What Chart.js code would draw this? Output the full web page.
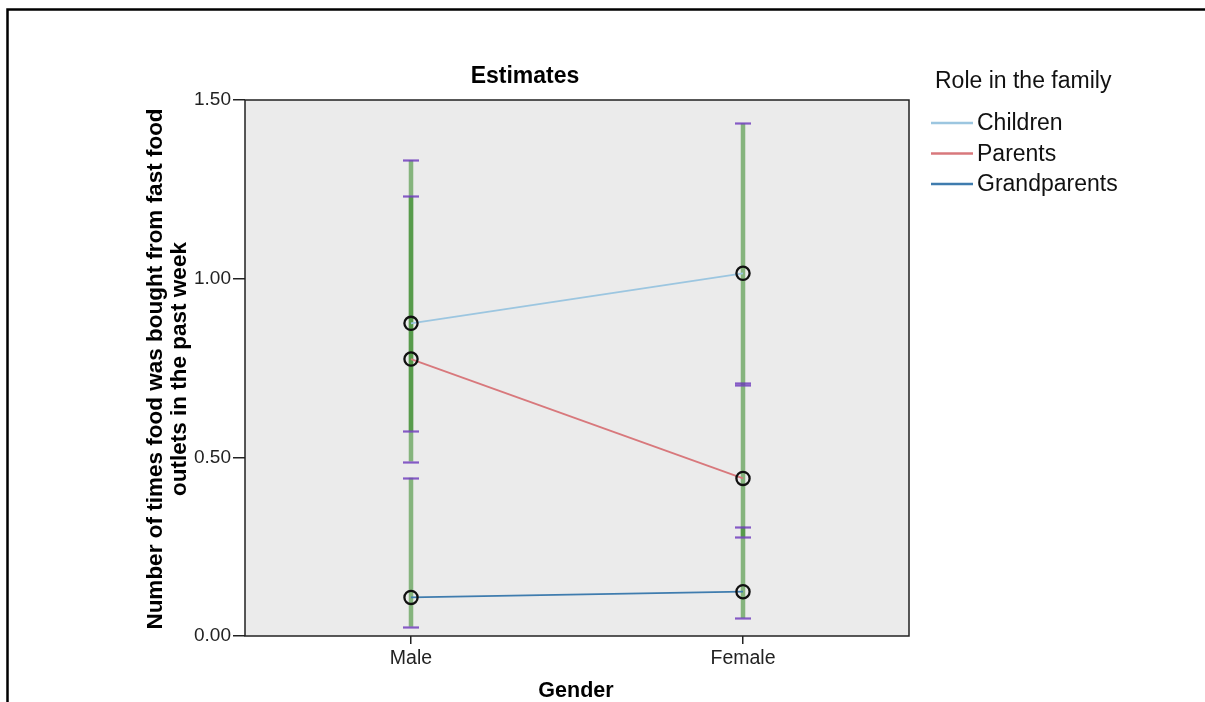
<!DOCTYPE html>
<html>
<head>
<meta charset="utf-8">
<title>Estimates</title>
<script src="https://cdn.jsdelivr.net/npm/chart.js@4/dist/chart.umd.min.js"></script>
<style>
  html, body { margin: 0; padding: 0; background: #ffffff; }
  #wrap { position: relative; width: 1205px; height: 702px; }
</style>
</head>
<body>
<div id="wrap"><canvas id="chart" width="1205" height="702"></canvas></div>
<script>
// Estimated marginal means by gender and role in the family
const genders = ['Male', 'Female'];
const roles = ['Children', 'Parents', 'Grandparents'];

const childrenMeans = [0.875, 1.015];
const parentsMeans = [0.775, 0.441];
const grandparentsMeans = [0.108, 0.124];

// 95% confidence interval bounds
const childrenLower = [0.574, 0.702];
const childrenUpper = [1.231, 1.435];
const parentsLower = [0.488, 0.278];
const parentsUpper = [1.332, 0.709];
const grandparentsLower = [0.026, 0.050];
const grandparentsUpper = [0.443, 0.306];

const yTicks = [0, 0.5, 1.0, 1.5];

const roleColors = ['#9cc6e0', '#d8787c', '#3f7cae'];
const FONT = '"Liberation Sans", Arial, sans-serif';

const intervals = [
  { lower: childrenLower, upper: childrenUpper },
  { lower: parentsLower, upper: parentsUpper },
  { lower: grandparentsLower, upper: grandparentsUpper }
];

// Error bars: green whiskers with purple caps, drawn under the lines
const errorBars = {
  id: 'errorBars',
  beforeDatasetsDraw(chart) {
    const { ctx, scales: { x, y } } = chart;
    ctx.save();
    ctx.lineCap = 'butt';
    intervals.forEach(iv => {
      genders.forEach((g, i) => {
        const px = x.getPixelForValue(i);
        const top = y.getPixelForValue(iv.upper[i]);
        const bot = y.getPixelForValue(iv.lower[i]);
        ctx.strokeStyle = 'rgba(50,135,35,0.55)';
        ctx.lineWidth = 4.5;
        ctx.beginPath();
        ctx.moveTo(px, top);
        ctx.lineTo(px, bot);
        ctx.stroke();
      });
    });
    intervals.forEach(iv => {
      genders.forEach((g, i) => {
        const px = x.getPixelForValue(i);
        ctx.strokeStyle = 'rgba(115,65,190,0.85)';
        ctx.lineWidth = 2.2;
        [iv.upper[i], iv.lower[i]].forEach(v => {
          const py = Math.round(y.getPixelForValue(v)) + 0.5;
          ctx.beginPath();
          ctx.moveTo(px - 8, py);
          ctx.lineTo(px + 8, py);
          ctx.stroke();
        });
      });
    });
    ctx.restore();
  }
};

// Plot background, borders, titles and legend
const frame = {
  id: 'frame',
  beforeDraw(chart) {
    const { ctx, chartArea: a } = chart;
    ctx.save();
    ctx.fillStyle = '#ebebeb';
    ctx.fillRect(a.left, a.top, a.right - a.left, a.bottom - a.top);
    ctx.restore();
  },
  afterDraw(chart) {
    const { ctx, chartArea: a } = chart;
    ctx.save();
    ctx.strokeStyle = '#222';
    ctx.lineWidth = 1.5;
    ctx.strokeRect(a.left, a.top, a.right - a.left, a.bottom - a.top);

    ctx.strokeStyle = '#000';
    ctx.lineWidth = 2.5;
    ctx.beginPath();
    ctx.moveTo(7.5, 702);
    ctx.lineTo(7.5, 9.5);
    ctx.lineTo(1205, 9.5);
    ctx.stroke();

    ctx.fillStyle = '#000';
    ctx.textAlign = 'center';
    ctx.textBaseline = 'middle';
    ctx.font = 'bold 23px ' + FONT;
    ctx.fillText('Estimates', 525, 77);

    ctx.font = 'bold 21.5px ' + FONT;
    ctx.fillText('Gender', 576, 691);

    ctx.save();
    ctx.translate(156, 369);
    ctx.rotate(-Math.PI / 2);
    ctx.font = 'bold 22.5px ' + FONT;
    ctx.fillText('Number of times food was bought from fast food', 0, 0);
    ctx.fillText('outlets in the past week', 0, 24);
    ctx.restore();

    ctx.textAlign = 'left';
    ctx.font = '23px ' + FONT;
    ctx.fillStyle = '#111';
    ctx.fillText('Role in the family', 935, 82);
    roles.forEach((r, k) => {
      const ly = 123 + k * 30.5;
      ctx.strokeStyle = roleColors[k];
      ctx.lineWidth = 2.5;
      ctx.beginPath();
      ctx.moveTo(931, ly);
      ctx.lineTo(973, ly);
      ctx.stroke();
      ctx.fillStyle = '#111';
      ctx.fillText(r, 977, ly + 1);
    });
    ctx.restore();
  }
};

const seriesValues = [childrenMeans, parentsMeans, grandparentsMeans];

new Chart(document.getElementById('chart'), {
  type: 'line',
  data: {
    labels: genders,
    datasets: roles.map((r, k) => ({
      label: r,
      data: seriesValues[k],
      borderColor: roleColors[k],
      borderWidth: 1.8,
      pointRadius: 6.6,
      pointHoverRadius: 6.6,
      pointBorderWidth: 2.3,
      pointBorderColor: '#111',
      pointBackgroundColor: 'rgba(0,0,0,0)',
      tension: 0,
      fill: false
    }))
  },
  options: {
    responsive: false,
    animation: false,
    events: [],
    layout: { padding: { left: 0, top: 100, right: 296, bottom: 0 } },
    plugins: {
      legend: { display: false },
      title: { display: false },
      tooltip: { enabled: false }
    },
    scales: {
      x: {
        type: 'category',
        offset: true,
        afterFit(scale) { scale.height = 66; },
        grid: {
          offset: false,
          drawOnChartArea: false,
          drawTicks: true,
          tickLength: 8,
          color: '#222',
          lineWidth: 1.5
        },
        border: { display: false },
        ticks: {
          color: '#222',
          padding: 3,
          font: { family: FONT, size: 19.5 }
        }
      },
      y: {
        min: 0,
        max: 1.5,
        afterFit(scale) { scale.width = 245; },
        afterBuildTicks(scale) { scale.ticks = yTicks.map(v => ({ value: v })); },
        grid: {
          drawOnChartArea: false,
          drawTicks: true,
          tickLength: 12,
          color: '#222',
          lineWidth: 1.5
        },
        border: { display: false },
        ticks: {
          color: '#222',
          padding: 2,
          font: { family: FONT, size: 19 },
          callback: v => Number(v).toFixed(2)
        }
      }
    }
  },
  plugins: [frame, errorBars]
});
</script>
</body>
</html>
